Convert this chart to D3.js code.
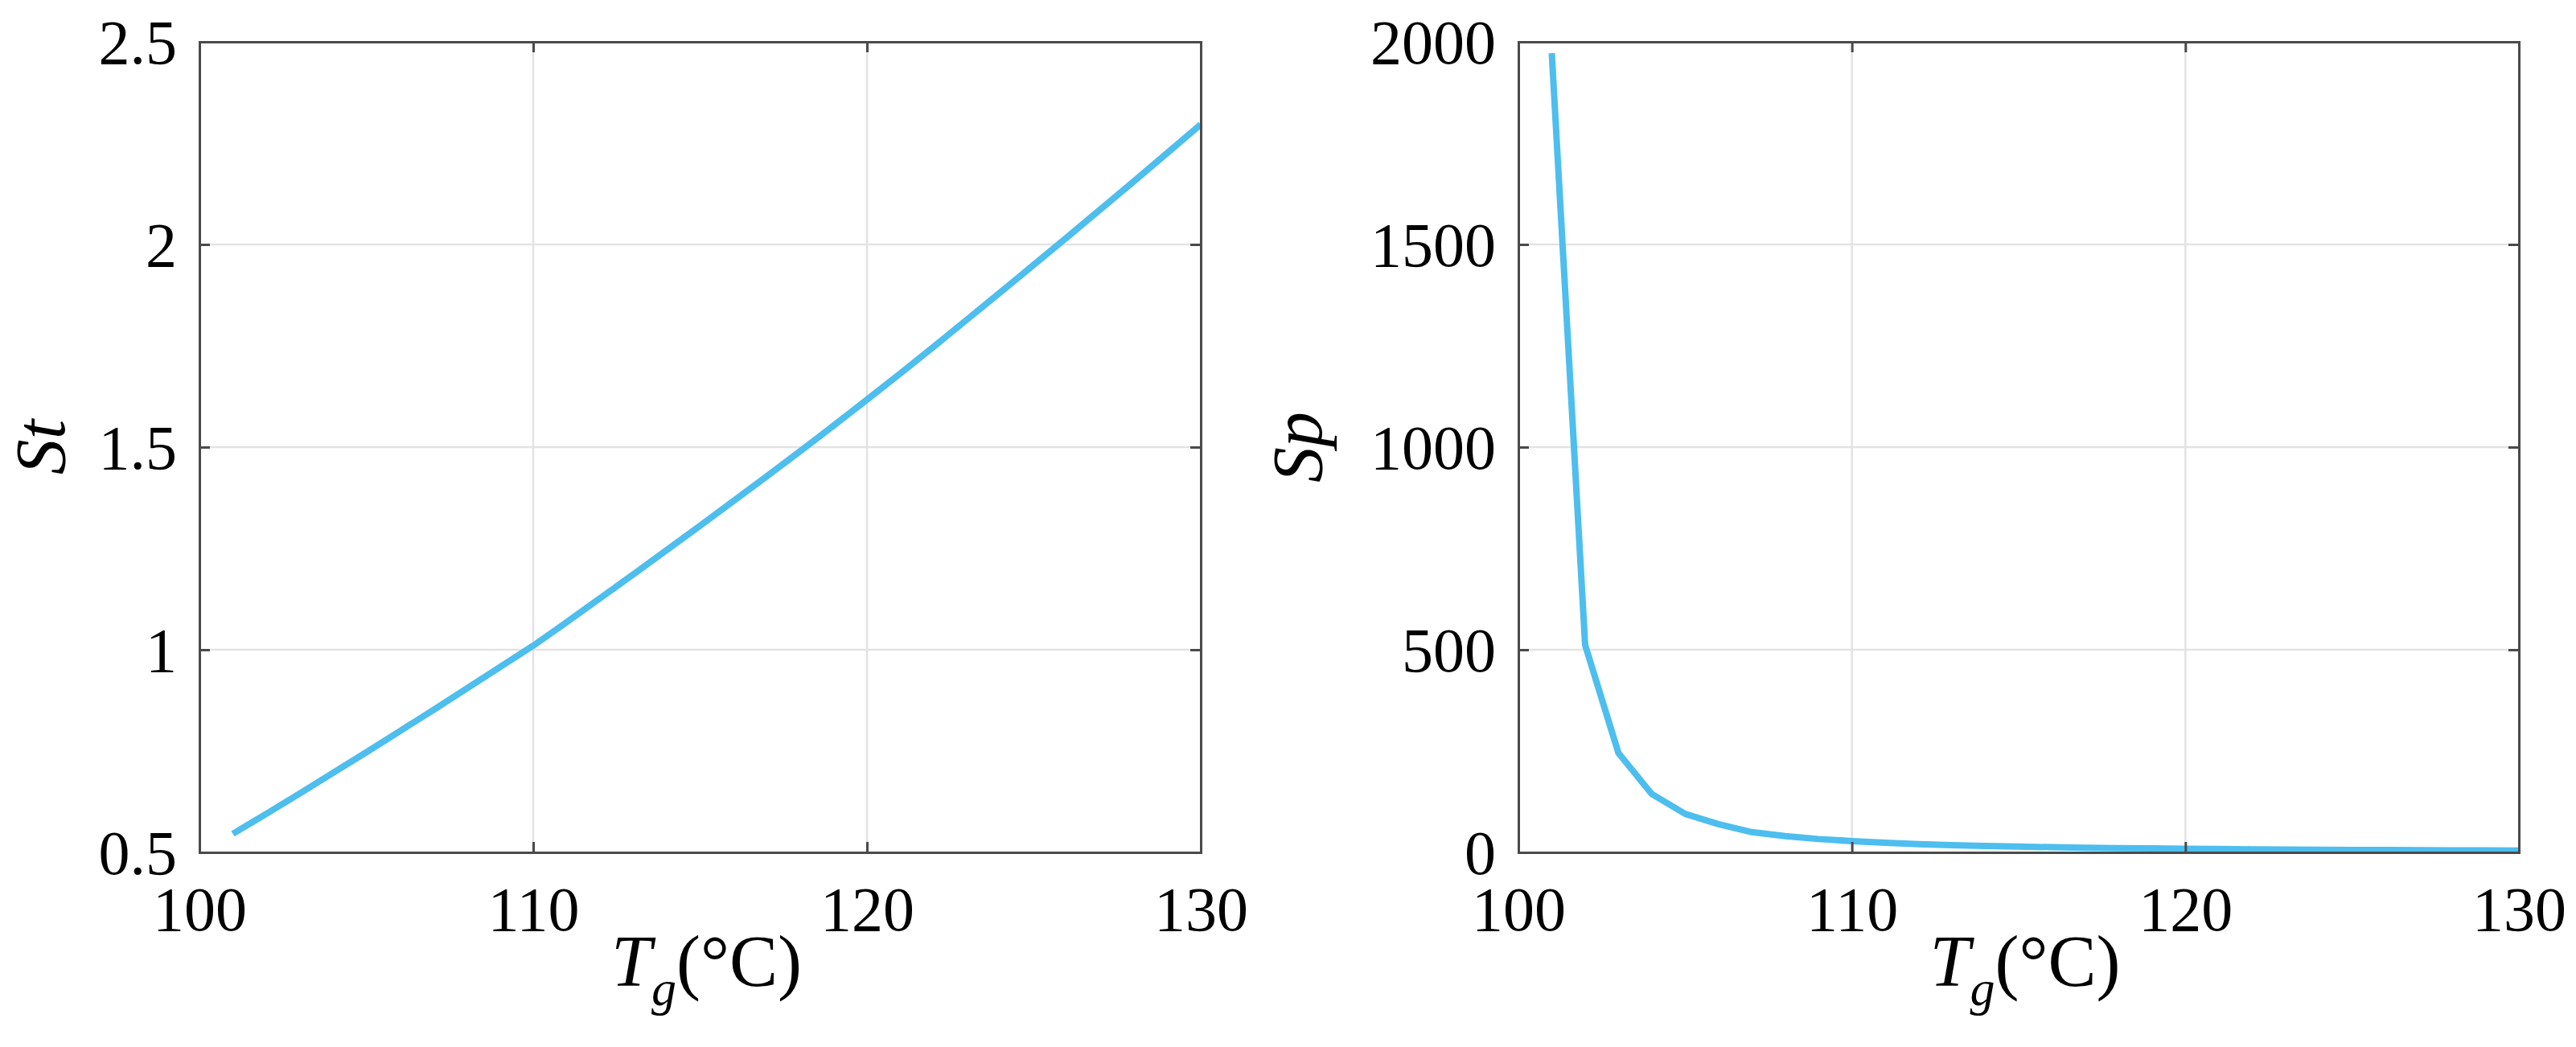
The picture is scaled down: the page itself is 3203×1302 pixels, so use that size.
<!DOCTYPE html>
<html><head><meta charset="utf-8">
<script src="https://cdn.jsdelivr.net/npm/d3@7"></script>
<style>body{margin:0;background:#fff}svg{display:block}text{font-family:"Liberation Serif","Times New Roman",serif;fill:#000}</style>
</head><body>
<svg id="c" width="3203" height="1302"></svg>
<script>
const tg = [101,102,103,104,105,106,107,108,109,110,111,112,113,114,115,116,117,118,119,120,121,122,123,124,125,126,127,128,129,130];
const stValues = [0.546,0.595,0.645,0.696,0.747,0.799,0.851,0.904,0.957,1.010,1.068,1.127,1.186,1.246,1.306,1.367,1.428,1.490,1.553,1.617,1.682,1.748,1.815,1.882,1.950,2.018,2.087,2.156,2.226,2.296];
const spValues = [1972,512,245,144,95,69.6,50,40,33,28,24,20.5,18,16,14.3,12.8,11.6,10.6,9.7,8.9,8.2,7.6,7.1,6.6,6.2,5.8,5.5,5.2,4.9,4.7];
const xTicks = [100,110,120,130];
const stTicks = [0.5,1,1.5,2,2.5];
const spTicks = [0,500,1000,1500,2000];

const svg = d3.select("#c");
const plotTop = 52, plotBottom = 1060;

function panel(x0, x1, yDomain, yTicks, values, yLabelMain, yLabelX){
  const x = d3.scaleLinear().domain([100,130]).range([x0,x1]);
  const y = d3.scaleLinear().domain(yDomain).range([plotBottom,plotTop]);
  const g = svg.append("g");
  g.selectAll(".gx").data(xTicks.slice(1,-1)).join("line")
    .attr("x1",d=>x(d)).attr("x2",d=>x(d)).attr("y1",plotTop).attr("y2",plotBottom)
    .attr("stroke","#e3e3e3").attr("stroke-width",2.5);
  g.selectAll(".gy").data(yTicks.slice(1,-1)).join("line")
    .attr("y1",d=>y(d)).attr("y2",d=>y(d)).attr("x1",x0).attr("x2",x1)
    .attr("stroke","#e3e3e3").attr("stroke-width",2.5);
  const line = d3.line().x((d,i)=>x(tg[i])).y(d=>y(d));
  g.append("path").datum(values).attr("d",line).attr("fill","none")
    .attr("stroke","#4DBEEE").attr("stroke-width",8).attr("stroke-linejoin","round");
  const ax = g.append("g").attr("transform",`translate(0,${plotBottom})`)
    .call(d3.axisBottom(x).tickValues(xTicks).tickSize(-13).tickPadding(42).tickFormat(d3.format("d")));
  const axTop = g.append("g").attr("transform",`translate(0,${plotTop})`)
    .call(d3.axisTop(x).tickValues(xTicks).tickSize(-13).tickFormat(""));
  const ay = g.append("g").attr("transform",`translate(${x0},0)`)
    .call(d3.axisLeft(y).tickValues(yTicks).tickSize(-13).tickPadding(28).tickFormat(d=>String(d)));
  const ayR = g.append("g").attr("transform",`translate(${x1},0)`)
    .call(d3.axisRight(y).tickValues(yTicks).tickSize(-13).tickFormat(""));
  [ax,axTop,ay,ayR].forEach(a=>{
    a.select(".domain").attr("stroke","#4a4a4a").attr("stroke-width",3);
    a.selectAll(".tick line").attr("stroke","#4a4a4a").attr("stroke-width",3);
    a.selectAll("text").attr("font-size",78).attr("font-family","Liberation Serif").attr("fill","#000");
  });
  ax.selectAll("text").attr("dy","0.71em");
  ay.selectAll("text").attr("dy","0.34em");
  const xl = g.append("text").attr("x",(x0+x1)/2+8).attr("y",1226).attr("text-anchor","middle").attr("font-size",90);
  xl.append("tspan").attr("font-style","italic").text("T");
  xl.append("tspan").attr("font-style","italic").attr("font-size",62).attr("dy",24).text("g");
  xl.append("tspan").attr("dy",-24).text("(°C)");
  g.append("text").attr("transform",`translate(${yLabelX},${(plotTop+plotBottom)/2}) rotate(-90)`)
    .attr("text-anchor","middle").attr("font-size",88).attr("font-style","italic").text(yLabelMain);
}
panel(248,1493,[0.5,2.5],stTicks,stValues,"St",80);
panel(1888,3132,[0,2000],spTicks,spValues,"Sp",1643);
</script>
</body></html>
